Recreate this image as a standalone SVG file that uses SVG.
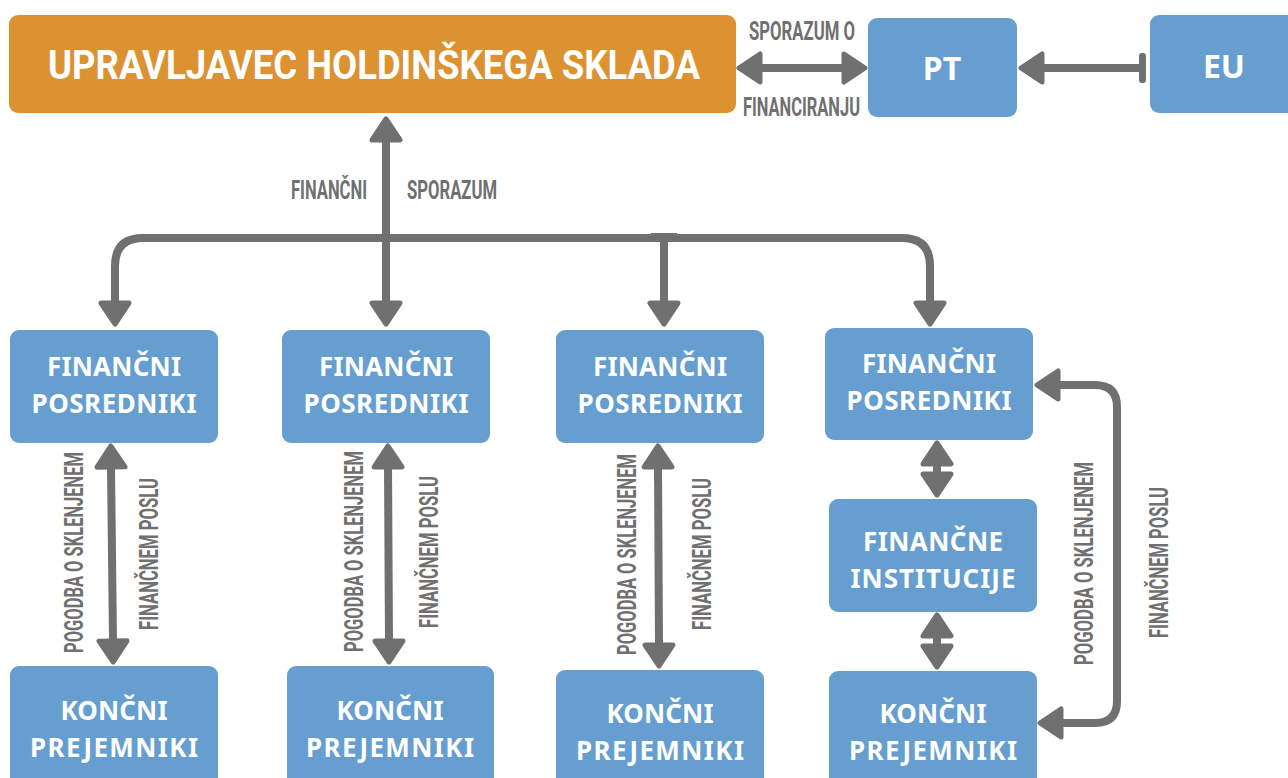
<svg xmlns="http://www.w3.org/2000/svg" width="1288" height="778" viewBox="0 0 1288 778">
<style>
.orange{fill:#DC9231;}
.blue{fill:#669ECF;}
.bt{font-family:"Noto Sans","Open Sans","Liberation Sans",sans-serif;font-weight:700;fill:#fff;text-anchor:middle;font-size:26px;}
.big{font-size:32px;}
.lbl{font-family:Roboto,"Liberation Sans",sans-serif;font-weight:700;fill:#707070;font-size:26px;}
.ln{fill:none;stroke:#707070;stroke-width:8;}
.arr{marker-start:url(#ah);marker-end:url(#ah);}
.one{marker-end:url(#ah);}
</style>
<defs>
<marker id="ah" markerUnits="userSpaceOnUse" orient="auto-start-reverse" refX="0" refY="0" markerWidth="40" markerHeight="40" viewBox="-4 -20 30 40" overflow="visible">
<path d="M0,-14 L21,0 L0,14 Z" fill="#707070" stroke="#707070" stroke-width="5" stroke-linejoin="round"/>
</marker>
</defs>
<rect width="1288" height="778" fill="#fff"/>

<g id="connectors">
<line class="ln arr" x1="760" y1="68" x2="844" y2="68"/>
<line class="ln" x1="1042" y1="68" x2="1143" y2="68" style="marker-start:url(#ah)"/>
<rect x="1139" y="53" width="7" height="30" rx="3" fill="#707070"/>
<line class="ln arr" x1="386" y1="140" x2="386" y2="303"/>
<path class="ln arr" d="M115,303 V266 Q115,238 143,238 H902 Q930,238 930,266 V303"/>
<path class="ln one" d="M664,238 V303"/>
<rect x="650" y="233" width="28" height="7" rx="2" fill="#707070"/>
<line class="ln arr" x1="111" y1="467" x2="113" y2="641"/>
<line class="ln arr" x1="388" y1="467" x2="389" y2="641"/>
<line class="ln arr" x1="658" y1="467" x2="659" y2="645"/>
<line class="ln arr" x1="937" y1="464" x2="937" y2="474"/>
<line class="ln arr" x1="937" y1="636" x2="937" y2="646"/>
<path class="ln arr" d="M1058,385 H1095 Q1117,385 1117,407 V701 Q1117,723 1095,723 H1061"/>
</g>

<g id="labels">
<text class="lbl" x="749" y="40" textLength="106" lengthAdjust="spacingAndGlyphs">SPORAZUM O</text>
<text class="lbl" x="743" y="116" textLength="117" lengthAdjust="spacingAndGlyphs">FINANCIRANJU</text>
<text class="lbl" x="291" y="199" textLength="76" lengthAdjust="spacingAndGlyphs">FINANČNI</text>
<text class="lbl" x="407" y="199" textLength="90" lengthAdjust="spacingAndGlyphs">SPORAZUM</text>
<text class="lbl" transform="translate(83,653) rotate(-90)" textLength="201" lengthAdjust="spacingAndGlyphs">POGODBA O SKLENJENEM</text>
<text class="lbl" transform="translate(158,630) rotate(-90)" textLength="152" lengthAdjust="spacingAndGlyphs">FINANČNEM POSLU</text>
<text class="lbl" transform="translate(363,652) rotate(-90)" textLength="201" lengthAdjust="spacingAndGlyphs">POGODBA O SKLENJENEM</text>
<text class="lbl" transform="translate(438,628) rotate(-90)" textLength="152" lengthAdjust="spacingAndGlyphs">FINANČNEM POSLU</text>
<text class="lbl" transform="translate(636,655) rotate(-90)" textLength="201" lengthAdjust="spacingAndGlyphs">POGODBA O SKLENJENEM</text>
<text class="lbl" transform="translate(711,630) rotate(-90)" textLength="152" lengthAdjust="spacingAndGlyphs">FINANČNEM POSLU</text>
<text class="lbl" transform="translate(1093,665) rotate(-90)" textLength="203" lengthAdjust="spacingAndGlyphs">POGODBA O SKLENJENEM</text>
<text class="lbl" transform="translate(1168,638) rotate(-90)" textLength="151" lengthAdjust="spacingAndGlyphs">FINANČNEM POSLU</text>
</g>

<g id="n-upravljavec">
<rect class="orange" x="9" y="15" width="727" height="98" rx="9"/>
<text x="48" y="79" font-family="Roboto,'Liberation Sans',sans-serif" font-weight="700" font-size="40" fill="#fff" textLength="652" lengthAdjust="spacingAndGlyphs">UPRAVLJAVEC HOLDINŠKEGA SKLADA</text>
</g>
<g id="n-pt">
<rect class="blue" x="868" y="18" width="149" height="99" rx="9"/>
<text class="bt big" x="942" y="80">PT</text>
</g>
<g id="n-eu">
<rect class="blue" x="1150" y="15" width="150" height="98" rx="9"/>
<text class="bt big" x="1224" y="78">EU</text>
</g>

<g id="n-fp1"><rect class="blue" x="10" y="330" width="208" height="113" rx="9"/>
<text class="bt" x="114" y="376" textLength="134">FINANČNI</text><text class="bt" x="114" y="413" textLength="165">POSREDNIKI</text></g>
<g id="n-fp2"><rect class="blue" x="282" y="330" width="208" height="113" rx="9"/>
<text class="bt" x="386" y="376" textLength="134">FINANČNI</text><text class="bt" x="386" y="413" textLength="165">POSREDNIKI</text></g>
<g id="n-fp3"><rect class="blue" x="556" y="330" width="208" height="113" rx="9"/>
<text class="bt" x="660" y="376" textLength="134">FINANČNI</text><text class="bt" x="660" y="413" textLength="165">POSREDNIKI</text></g>
<g id="n-fp4"><rect class="blue" x="825" y="328" width="208" height="112" rx="9"/>
<text class="bt" x="929" y="373" textLength="134">FINANČNI</text><text class="bt" x="929" y="410" textLength="165">POSREDNIKI</text></g>

<g id="n-fi"><rect class="blue" x="829" y="499" width="208" height="113" rx="9"/>
<text class="bt" x="933" y="551" textLength="140">FINANČNE</text><text class="bt" x="933" y="588" textLength="165">INSTITUCIJE</text></g>

<g id="n-kp1"><rect class="blue" x="10" y="666" width="208" height="125" rx="9"/>
<text class="bt" x="114" y="720" textLength="107">KONČNI</text><text class="bt" x="114" y="757" textLength="168">PREJEMNIKI</text></g>
<g id="n-kp2"><rect class="blue" x="287" y="666" width="207" height="125" rx="9"/>
<text class="bt" x="390" y="720" textLength="107">KONČNI</text><text class="bt" x="390" y="757" textLength="168">PREJEMNIKI</text></g>
<g id="n-kp3"><rect class="blue" x="556" y="670" width="208" height="125" rx="9"/>
<text class="bt" x="660" y="723" textLength="107">KONČNI</text><text class="bt" x="660" y="760" textLength="168">PREJEMNIKI</text></g>
<g id="n-kp4"><rect class="blue" x="829" y="671" width="208" height="125" rx="9"/>
<text class="bt" x="933" y="723" textLength="107">KONČNI</text><text class="bt" x="933" y="760" textLength="168">PREJEMNIKI</text></g>
</svg>
